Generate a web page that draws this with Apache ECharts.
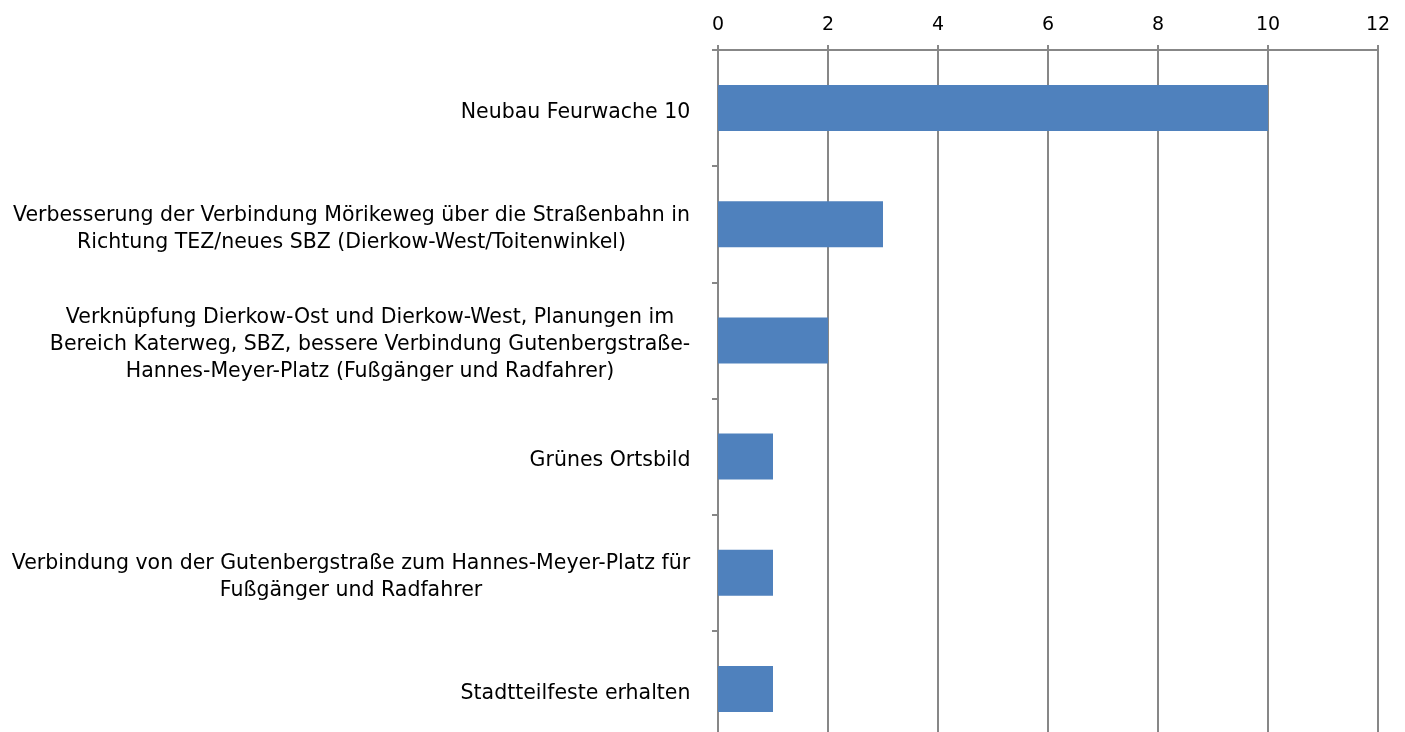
<!DOCTYPE html>
<html>
<head>
<meta charset="utf-8">
<script src="https://cdn.jsdelivr.net/npm/echarts@6/dist/echarts.min.js"></script>
<style>
html,body{margin:0;padding:0;background:#fff;}
#chart{width:1405px;height:732px;}
</style>
</head>
<body>
<div id="chart"></div>
<script>
var categories = [
  "Neubau Feurwache 10",
  "Verbesserung der Verbindung Mörikeweg über die Straßenbahn in\nRichtung TEZ/neues SBZ (Dierkow-West/Toitenwinkel)",
  "Verknüpfung Dierkow-Ost und Dierkow-West, Planungen im\nBereich Katerweg, SBZ, bessere Verbindung Gutenbergstraße-\nHannes-Meyer-Platz (Fußgänger und Radfahrer)",
  "Grünes Ortsbild",
  "Verbindung von der Gutenbergstraße zum Hannes-Meyer-Platz für\nFußgänger und Radfahrer",
  "Stadtteilfeste erhalten"
];
var values = [10, 3, 2, 1, 1, 1];
var axisMin = 0, axisMax = 12, axisStep = 2;

var FONT_FAMILY = "DejaVu Sans";
var FONT_SIZE = 20.5;

// measure widest line of each label so multi-line labels are centred on their own width
var cv = document.createElement('canvas').getContext('2d');
cv.font = FONT_SIZE + 'px "' + FONT_FAMILY + '"';
var rich = {};
categories.forEach(function (c, i) {
  var w = 0;
  c.split('\n').forEach(function (l) { w = Math.max(w, cv.measureText(l).width); });
  rich['c' + i] = { width: Math.ceil(w) + 1, align: 'center', fontSize: FONT_SIZE, fontFamily: FONT_FAMILY, color: '#000', lineHeight: 27 };
});

var chart = echarts.init(document.getElementById('chart'));
chart.setOption({
  animation: false,
  backgroundColor: '#fff',
  grid: { left: 718, right: 27, top: 50, bottom: -15, containLabel: false, outerBoundsMode: 'none' },
  xAxis: {
    type: 'value', position: 'top', min: axisMin, max: axisMax, interval: axisStep,
    axisLine: { show: true, lineStyle: { color: '#878787', width: 2 } },
    axisTick: { show: true, length: 5, lineStyle: { color: '#878787', width: 2 } },
    splitLine: { show: true, lineStyle: { color: '#878787', width: 2 } },
    axisLabel: { margin: 15, fontSize: 19, color: '#000', fontFamily: FONT_FAMILY }
  },
  yAxis: {
    type: 'category', inverse: true, data: categories,
    axisLine: { show: true, lineStyle: { color: '#878787', width: 2 } },
    axisTick: { show: true, length: 6, lineStyle: { color: '#878787', width: 2 } },
    axisLabel: {
      margin: 27, interval: 0, padding: [9, 0, 0, 0],
      formatter: function (v, idx) { return '{c' + idx + '|' + v + '}'; },
      rich: rich
    }
  },
  series: [{
    type: 'bar', data: values, barWidth: 46,
    itemStyle: { color: '#4F81BD' }
  }]
});
</script>
</body>
</html>
